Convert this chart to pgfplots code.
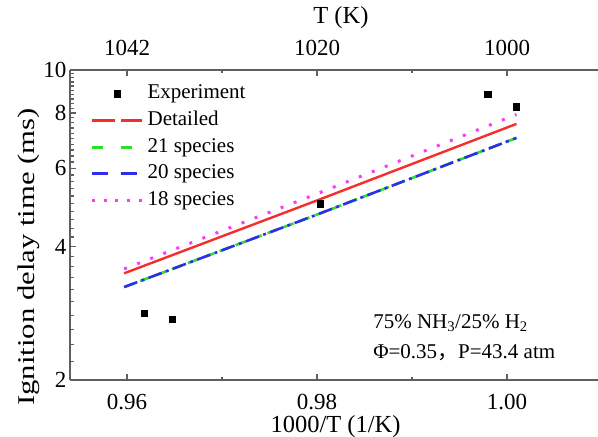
\documentclass[border=0pt]{standalone}
\usepackage{pgfplots}
\pgfplotsset{compat=1.18}
\usepackage{fontspec}
\setmainfont{Liberation Serif}
\newfontfamily\cjk{Noto Sans CJK SC}
\usepackage{graphicx}

\definecolor{cred}{RGB}{245,45,45}
\definecolor{cgreen}{RGB}{40,225,40}
\definecolor{cblue}{RGB}{45,45,235}
\definecolor{cmag}{RGB}{250,60,250}
\definecolor{axgray}{RGB}{95,95,95}

\pgfplotsset{
  base/.style={
    scale only axis, width=528bp, height=310bp,
    at={(70bp,57bp)}, anchor=south west,
    xmin=0.954, xmax=1.00958,
    tick align=inside,
    axis line style={-, draw=axgray, line width=1.8bp},
    every tick/.style={draw=axgray, line width=1.2bp},
    major tick length=6bp, minor tick length=3.5bp,
    /pgf/number format/assume math mode=true,
    tick label style={font=\fontsize{23bp}{23bp}\selectfont},
    xtick={0.96,0.98,1.00},
    minor xtick={0.97,0.99},
  }
}

\pgfplotstableread{
x y
0.96182 2.83
0.96474 2.74
0.98032 4.99
0.99797 8.82
1.00095 8.27
}\exptab

\pgfplotstableread{
x y
0.9597 3.48
0.9800 5.08
1.0010 7.56
}\dettab

\pgfplotstableread{
x y
0.9597 3.24
0.9800 4.72
1.0010 7.03
}\sptwentyone

\pgfplotstableread{
x y
0.9597 3.24
0.9800 4.72
1.0010 7.03
}\sptwenty

\pgfplotstableread{
x y
0.9597 3.56
0.9800 5.26
1.0010 7.94
}\speighteen

\begin{document}
\begin{tikzpicture}
\begin{axis}[
  base,
  ymode=log, ymin=2, ymax=10,
  ytick={2,4,6,8,10}, yticklabels={2,4,6,8,10},
  minor ytick={2.2,2.4,2.6,2.8,3.0,3.2,3.4,3.6,3.8,4.2,4.4,4.6,4.8,5.0,5.2,5.4,5.6,5.8,6.2,6.4,6.6,6.8,7.0,7.2,7.4,7.6,7.8,8.2,8.4,8.6,8.8,9.0,9.2,9.4,9.6,9.8},
  xticklabels={0.96,0.98,1.00},
  axis x line*=bottom, axis y line*=left,
  xticklabel style={yshift=-10.5bp},
  xlabel={1000/T (1/K)},
  every axis x label/.style={at={(axis description cs:0.503,0)}, anchor=center, yshift=-47bp, font=\fontsize{24.5bp}{24.5bp}\selectfont},
  ylabel={\scalebox{1.28}[1]{Ignition delay time (ms)}},
  every axis y label/.style={at={(axis description cs:-0.0786,0.397)}, rotate=90, anchor=center, font=\fontsize{24bp}{24bp}\selectfont},
  legend style={at={(axis description cs:0.0390,0.958)}, anchor=north west,
    draw=none, fill=none, inner sep=0pt, outer sep=0pt,
    row sep=5.8bp, column sep=4bp,
    font=\fontsize{21bp}{21bp}\selectfont,
    nodes={inner sep=0pt, text height=15.5bp, text depth=5.5bp},
    cells={anchor=west}},
]
\addplot[only marks, mark=square*, mark size=3.2bp, black,
  legend image code/.code={\path[draw=none] (0bp,0bp) -- (50bp,0bp);
    \fill[black] plot[only marks, mark=square*, mark size=3.2bp] coordinates {(25bp,0bp)};}]
  table {\exptab};
\addlegendentry{Experiment}
\addplot[cred, line width=2.4bp, no marks,
  legend image code/.code={\draw[cred, line width=3bp, dash pattern=on 22.7bp off 6bp] (0bp,0bp) -- (50bp,0bp);}]
  table {\dettab};
\addlegendentry{Detailed}
\addplot[cgreen, line width=2.6bp, no marks, dash pattern=on 11bp off 6bp,
  legend image code/.code={\draw[cgreen, line width=3bp, dash pattern=on 11bp off 17.6bp] (0bp,0bp) -- (50bp,0bp);}]
  table {\sptwentyone};
\addlegendentry{21 species}
\addplot[cblue, line width=2.6bp, no marks, dash pattern=on 14bp off 4.5bp on 3bp off 4.5bp,
  legend image code/.code={\draw[cblue, line width=3bp, dash pattern=on 16bp off 12.6bp] (0bp,0bp) -- (50bp,0bp);}]
  table {\sptwenty};
\addlegendentry{20 species}
\addplot[cmag, line width=3bp, no marks, dash pattern=on 3bp off 11bp,
  legend image code/.code={\draw[cmag, line width=3bp, dash pattern=on 3bp off 8.7bp] (0bp,0bp) -- (50bp,0bp);}]
  table {\speighteen};
\addlegendentry{18 species}

\node[anchor=west, font=\fontsize{21bp}{21bp}\selectfont, inner sep=0pt] at (axis description cs:0.574,0.184) {75\% NH\textsubscript{3}/25\% H\textsubscript{2}};
\node[anchor=west, font=\fontsize{21bp}{21bp}\selectfont, inner sep=0pt] at (axis description cs:0.574,0.087) {Φ=0.35{\cjk ，}P=43.4 atm};
\end{axis}

\begin{axis}[
  base,
  ymin=0, ymax=1,
  axis x line*=top, axis y line=none,
  xticklabels={1042,1020,1000},
  xticklabel style={yshift=11bp},
  xlabel={T (K)},
  every axis x label/.style={at={(axis description cs:0.513,1)}, anchor=center, yshift=52bp, font=\fontsize{24.5bp}{24.5bp}\selectfont},
]
\end{axis}

\pgfresetboundingbox
\path (0bp,0bp) rectangle (598bp,437bp);
\end{tikzpicture}
\end{document}
